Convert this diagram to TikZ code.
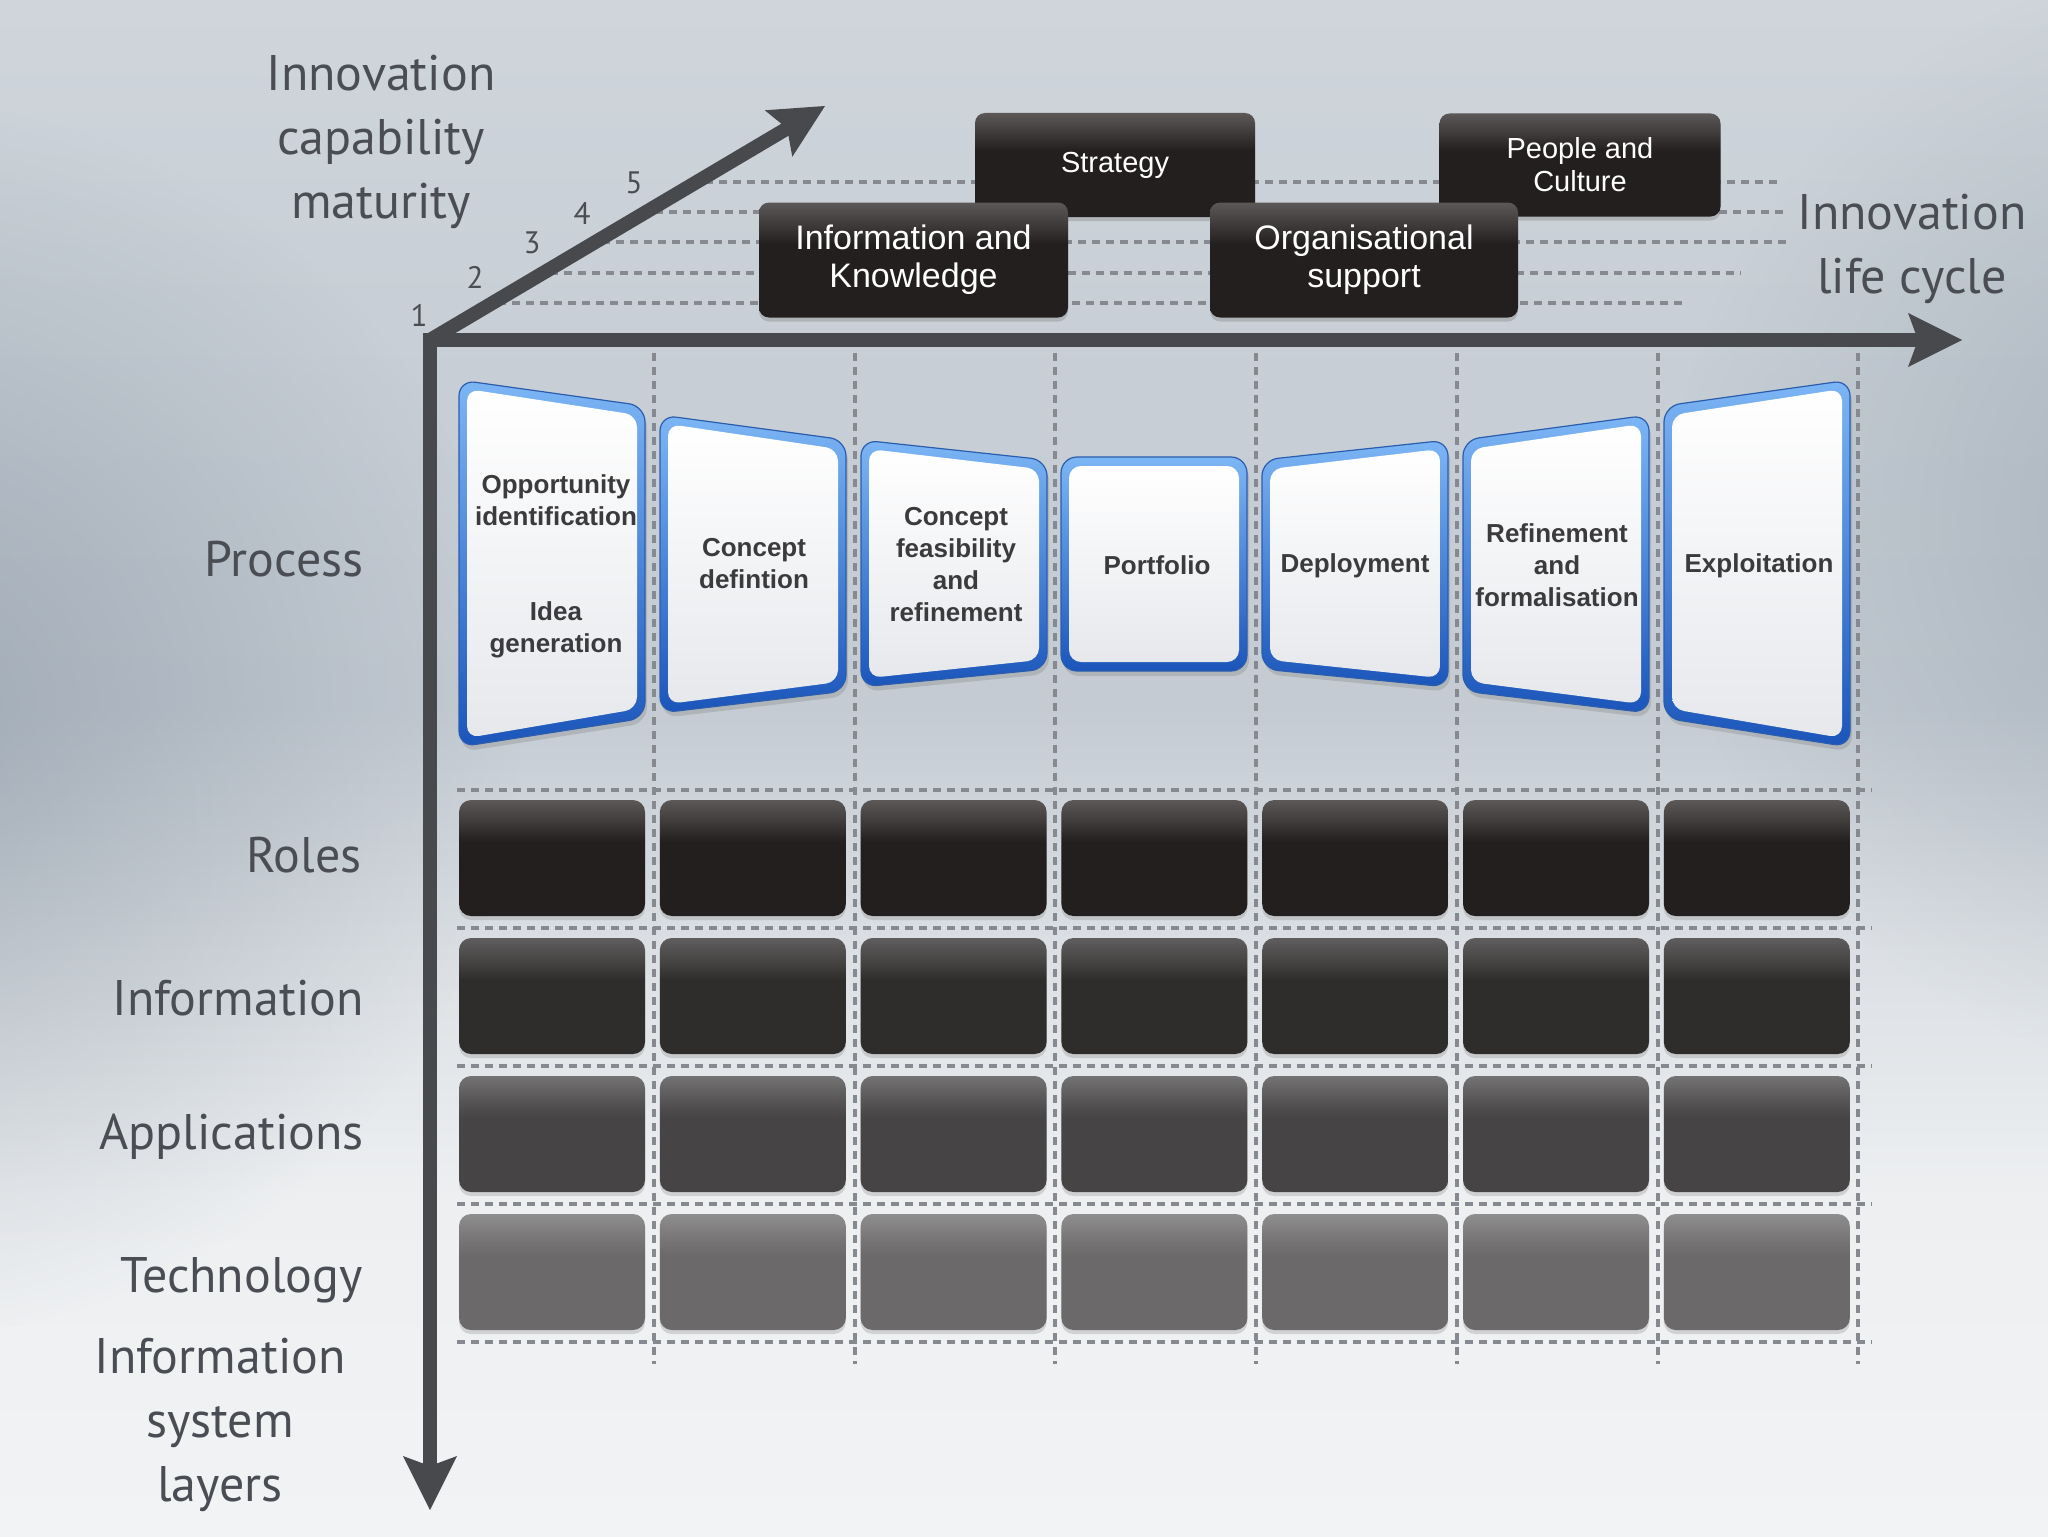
\documentclass[tikz,border=0pt]{standalone}
\usepackage{fontspec}
\setmainfont{Liberation Sans}
\newfontfamily\lblfont{PT Sans}
\usetikzlibrary{arrows.meta,shadows,fadings}

\definecolor{axisgray}{HTML}{47494C}
\definecolor{lblgray}{HTML}{4A4E54}
\definecolor{dashgray}{HTML}{868A90}
\definecolor{cardtext}{HTML}{3B3B3D}
\definecolor{bgA}{HTML}{CFD5DB}
\definecolor{bgB}{HTML}{C8CFD6}
\definecolor{bgC}{HTML}{C4CBD3}
\definecolor{bgD}{HTML}{DCE0E4}
\definecolor{bgE}{HTML}{EDEFF1}
\definecolor{bgF}{HTML}{F2F3F5}
\definecolor{vig}{HTML}{8693A0}
\definecolor{blueTop}{HTML}{7DB6F5}
\definecolor{blueBot}{HTML}{1B55BA}
\definecolor{blueEdge}{HTML}{2A5DAE}
\definecolor{cardBot}{HTML}{E6E8EC}
\definecolor{rT}{HTML}{5C5858}\definecolor{rM}{HTML}{3A3636}\definecolor{rB}{HTML}{231F1F}
\definecolor{iT}{HTML}{5F5D5D}\definecolor{iM}{HTML}{444141}\definecolor{iB}{HTML}{2F2C2C}
\definecolor{aT}{HTML}{747374}\definecolor{aM}{HTML}{555354}\definecolor{aB}{HTML}{464445}
\definecolor{tT}{HTML}{8F8E8F}\definecolor{tM}{HTML}{777576}\definecolor{tB}{HTML}{6B696A}

\pgfdeclareverticalshading{bgshade}{100bp}{color(0bp)=(bgF); color(25bp)=(bgF); color(36bp)=(bgE); color(44bp)=(bgD); color(52bp)=(bgC); color(65bp)=(bgB); color(75bp)=(bgA); color(100bp)=(bgA)}
\newcommand\declrow[4]{\pgfdeclareverticalshading{#1}{100bp}{color(0bp)=(#4); color(25bp)=(#4); color(57bp)=(#4); color(64bp)=(#3); color(75bp)=(#2); color(100bp)=(#2)}}
\declrow{rowR}{rT}{rM}{rB}
\declrow{rowI}{iT}{iM}{iB}
\declrow{rowA}{aT}{aM}{aB}
\declrow{rowT}{tT}{tM}{tB}

\tikzfading[name=softspot, inner color=transparent!0, outer color=transparent!100]

\newcommand\pcard[5]{%
  \path[cardouter] ({#1},{#2}) -- ({#1+186},{#3}) -- ({#1+186},{#4}) -- ({#1},{#5}) -- cycle;
  \path[cardinner] ({#1+8},{#2+9}) -- ({#1+178},{#3+9}) -- ({#1+178},{#4-9}) -- ({#1+8},{#5-9}) -- cycle;
}

\begin{document}
\begin{tikzpicture}[x={(0.5pt,0)}, y={(0,-0.5pt)},
  axis/.style={draw=axisgray, line width=7pt, line join=miter},
  tip/.tip={Stealth[length=27pt, width=27pt, inset=5pt, line width=0pt]},
  dashline/.style={draw=dashgray, line width=1.6pt, dash pattern=on 4pt off 3pt},
  lbl/.style={text=lblgray, font=\lblfont\fontsize{25pt}{32pt}\selectfont, inner sep=0pt},
  numlbl/.style={text=lblgray, font=\lblfont\fontsize{15.5pt}{17pt}\selectfont, inner sep=0pt},
  topbox/.style={shade, shading=rowR, rounded corners=5pt, text=white, align=center, inner sep=0pt,
    drop shadow={opacity=0.35, shadow xshift=0pt, shadow yshift=-2pt}},
  gridbox/.style={shade, rounded corners=6pt, minimum width=93pt, minimum height=58pt, inner sep=0pt,
    drop shadow={opacity=0.28, shadow xshift=0pt, shadow yshift=-2pt}},
  cardouter/.style={rounded corners=8pt, top color=blueTop, bottom color=blueBot, draw=blueEdge, line width=0.6pt,
    drop shadow={opacity=0.3, shadow xshift=1pt, shadow yshift=-2.5pt}},
  cardinner/.style={rounded corners=6pt, top color=white, bottom color=cardBot},
  cardlbl/.style={text=cardtext, font=\bfseries\fontsize{13pt}{16pt}\selectfont, align=center, inner sep=0pt}
]
\useasboundingbox (0,0) rectangle (2048,1536);
% background
\begin{scope}
  \clip (0,0) rectangle (2048,1536);
  \shade[shading=bgshade] (0,0) rectangle (2048,1536);
  \fill[vig, opacity=0.6, path fading=softspot] (-120,720) ellipse [x radius=640, y radius=620];
  \fill[vig, opacity=0.45, path fading=softspot] (2230,520) ellipse [x radius=560, y radius=560];
\end{scope}

% maturity level lines
\foreach \yy/\xa/\xb in {303/498/1685, 273/550/1741, 242/602/1791, 212/655/1784, 182/705/1782}
  \draw[dashline] (\xa,\yy) -- (\xb,\yy);

% grid lines
\foreach \yy in {790,928,1066,1204,1342}
  \draw[dashline] (457,\yy) -- (1872,\yy);
\foreach \xx in {654,855,1055,1256,1457,1658,1858}
  \draw[dashline] (\xx,353) -- (\xx,1364);

% axes
\coordinate (O) at (430,340);
\coordinate (X) at (1962,340);
\coordinate (Y) at (430,1510);
\coordinate (Z) at (825,106);
\draw[axis, {tip}-{tip}] (Y) -- (O) -- (X);
\draw[axis, -{tip}] (O) -- (Z);

% maturity numbers
\node[numlbl] (m1) at (419,315) {1};
\node[numlbl] (m2) at (475,277) {2};
\node[numlbl] (m3) at (532,243) {3};
\node[numlbl] (m4) at (582,213) {4};
\node[numlbl] (m5) at (634,183) {5};

% top capability boxes
\node[topbox, minimum width=140pt, minimum height=52pt, font=\fontsize{14.5pt}{16.5pt}\selectfont] (strategy) at (1115,165) {Strategy};
\node[topbox, minimum width=140.5pt, minimum height=51.5pt, font=\fontsize{14.5pt}{16.5pt}\selectfont] (people) at (1580,165) {People and\\Culture};
\node[topbox, minimum width=154.5pt, minimum height=57.5pt, font=\fontsize{17pt}{19pt}\selectfont] (infok) at (913.5,260) {Information and\\Knowledge};
\node[topbox, minimum width=154pt, minimum height=57.5pt, font=\fontsize{17pt}{19pt}\selectfont] (orgs) at (1364,260) {Organisational\\support};

% process cards
\pcard{459}{380}{406}{718}{747}
\pcard{660}{415}{440}{691}{713}
\pcard{861}{440}{460}{669}{687}
\pcard{1061}{457}{457}{671}{671}
\pcard{1262}{460}{440}{687}{669}
\pcard{1463}{440}{415}{713}{691}
\pcard{1664}{406}{380}{747}{718}

\node[cardlbl] (p1a) at (556,500) {Opportunity\\identification};
\node[cardlbl] (p1b) at (556,630) {Idea\\generation};
\node[cardlbl] (p2) at (754,564) {Concept\\defintion};
\node[cardlbl] (p3) at (956,565) {Concept\\feasibility\\and\\refinement};
\node[cardlbl] (p4) at (1157,565) {Portfolio};
\node[cardlbl] (p5) at (1355,566) {Deployment};
\node[cardlbl] (p6) at (1557,565) {Refinement\\and\\formalisation};
\node[cardlbl] (p7) at (1759,566) {Exploitation};

% layer boxes
\foreach \c in {0,...,6} {
  \pgfmathsetmacro\cx{552+200.8*\c}
  \node[gridbox, shading=rowR] (roles\c) at (\cx,858) {};
  \node[gridbox, shading=rowI] (info\c) at (\cx,996) {};
  \node[gridbox, shading=rowA] (apps\c) at (\cx,1134) {};
  \node[gridbox, shading=rowT] (tech\c) at (\cx,1272) {};
}

% labels (base anchor = baseline of last line)
\node[lbl, anchor=base, align=center] (lmat) at (381,218) {Innovation\\capability\\maturity};
\node[lbl, anchor=base, align=center] (llife) at (1912,293) {Innovation\\life cycle};
\node[lbl, anchor=base east] (lproc) at (364,576) {Process};
\node[lbl, anchor=base east] (lroles) at (362,872) {Roles};
\node[lbl, anchor=base east] (linfo) at (364,1015) {Information};
\node[lbl, anchor=base east] (lapps) at (364,1149) {Applications};
\node[lbl, anchor=base east] (ltech) at (363,1292) {Technology};
\node[lbl, anchor=base, align=center] (llay) at (220,1501) {Information\\system\\layers};
\end{tikzpicture}
\end{document}
